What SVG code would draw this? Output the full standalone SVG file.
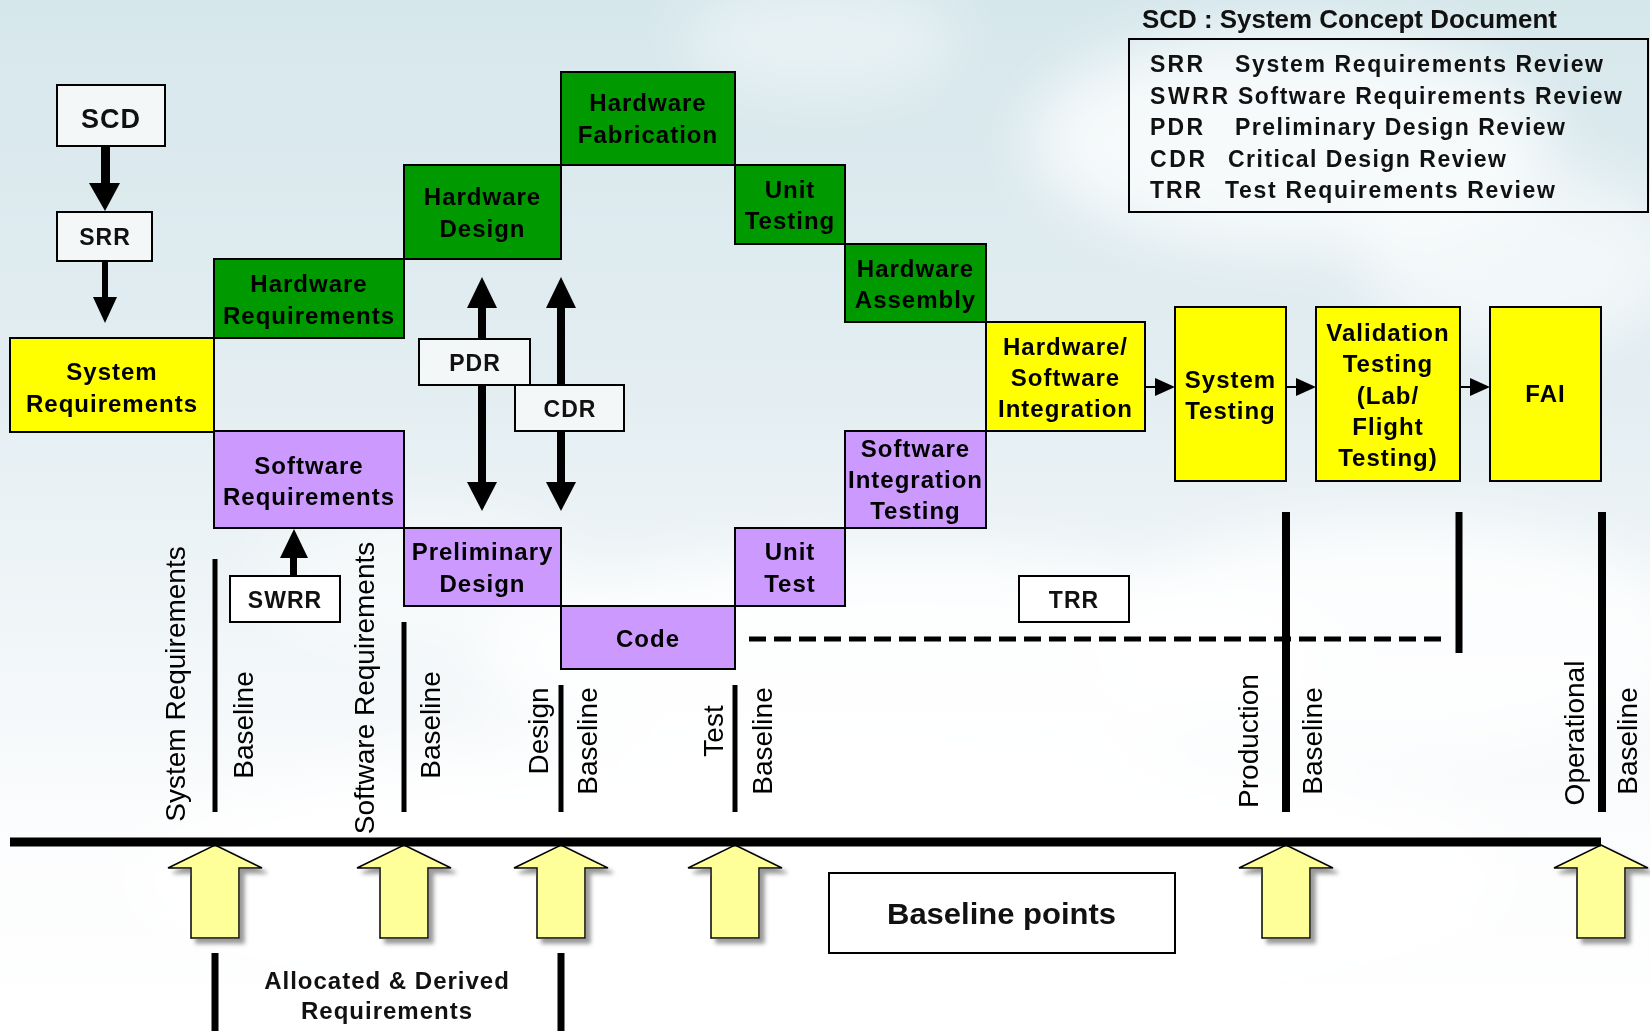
<svg xmlns="http://www.w3.org/2000/svg" width="1650" height="1031" viewBox="0 0 1650 1031">
  <defs>
    <linearGradient id="sky" x1="0" y1="0" x2="0" y2="1">
      <stop offset="0" stop-color="#d6e7ec"/>
      <stop offset="0.35" stop-color="#e2edf1"/>
      <stop offset="0.62" stop-color="#f1f6f8"/>
      <stop offset="0.8" stop-color="#fbfcfd"/>
      <stop offset="1" stop-color="#ffffff"/>
    </linearGradient>
    <filter id="soft" x="-50%" y="-50%" width="200%" height="200%">
      <feGaussianBlur stdDeviation="30"/>
    </filter>
    <filter id="shadow" x="-30%" y="-20%" width="160%" height="140%">
      <feDropShadow dx="5" dy="5" stdDeviation="2" flood-color="#808080" flood-opacity="0.8"/>
    </filter>
    <!-- upward block arrow, tip at origin -->
    <path id="blockArrow" d="M0,0 L47,23 L24,23 L24,93 L-24,93 L-24,23 L-47,23 Z"/>
    <style>
      .box { stroke: #000; stroke-width: 2; }
      .grn { fill: #009900; }
      .yel { fill: #ffff00; }
      .pur { fill: #cc99ff; }
      .rev { fill: #f3f7f8; stroke: #000; stroke-width: 2; }
      .wht { fill: #ffffff; stroke: #000; stroke-width: 2; }
      .lbl { font-family: "Liberation Sans", Arial, sans-serif; font-weight: bold; font-size: 24px; letter-spacing: 1px; text-anchor: middle; fill: #000; }
      .rvl { font-family: "Liberation Sans", Arial, sans-serif; font-weight: bold; font-size: 23px; letter-spacing: 1px; text-anchor: middle; fill: #111; }
      .rot { font-family: "Liberation Sans", Arial, sans-serif; font-size: 28px; text-anchor: middle; fill: #000; }
      .leg { font-family: "Liberation Sans", Arial, sans-serif; font-weight: bold; font-size: 23px; fill: #111; }
      .bar { stroke: #000; fill: none; }
      .blk { fill: #000; }
      .ba { fill: #ffff99; stroke: #000; stroke-width: 1.5; filter: url(#shadow); }
    </style>
  </defs>

  <!-- sky background with soft clouds -->
  <rect x="0" y="0" width="1650" height="1031" fill="url(#sky)"/>
  <g filter="url(#soft)" fill="#ffffff">
    <ellipse cx="1290" cy="140" rx="260" ry="110" opacity="0.75"/>
    <ellipse cx="1520" cy="260" rx="160" ry="90" opacity="0.6"/>
    <ellipse cx="820" cy="40" rx="140" ry="50" opacity="0.45"/>
    <ellipse cx="900" cy="660" rx="420" ry="110" opacity="0.85"/>
    <ellipse cx="1400" cy="640" rx="300" ry="120" opacity="0.8"/>
    <ellipse cx="420" cy="580" rx="160" ry="70" opacity="0.5"/>
    <ellipse cx="820" cy="880" rx="700" ry="140" opacity="0.9"/>
  </g>

  <!-- connectors -->
  <g id="connectors">
    <!-- SCD to SRR -->
    <rect class="blk" x="101" y="146" width="9" height="39"/>
    <polygon class="blk" points="89,183 120,183 105,211"/>
    <!-- SRR to System Requirements -->
    <rect class="blk" x="102" y="261" width="6" height="38"/>
    <polygon class="blk" points="93,297 117,297 105,323"/>
    <!-- PDR review arrows -->
    <rect class="blk" x="478" y="305" width="8" height="34"/>
    <polygon class="blk" points="467,308 497,308 482,277"/>
    <rect class="blk" x="478" y="385" width="8" height="99"/>
    <polygon class="blk" points="467,482 497,482 482,511"/>
    <!-- CDR review arrows -->
    <rect class="blk" x="557" y="305" width="8" height="80"/>
    <polygon class="blk" points="546,308 576,308 561,277"/>
    <rect class="blk" x="557" y="431" width="8" height="53"/>
    <polygon class="blk" points="546,482 576,482 561,511"/>
    <!-- SWRR to Software Requirements -->
    <rect class="blk" x="290" y="555" width="7" height="21"/>
    <polygon class="blk" points="280,558 308,558 294,529"/>
    <!-- test flow arrows -->
    <line class="bar" x1="1145" y1="387" x2="1158" y2="387" stroke-width="2"/>
    <polygon class="blk" points="1155,378 1155,396 1175,387"/>
    <line class="bar" x1="1286" y1="387" x2="1299" y2="387" stroke-width="2"/>
    <polygon class="blk" points="1296,378 1296,396 1316,387"/>
    <line class="bar" x1="1460" y1="387" x2="1473" y2="387" stroke-width="2"/>
    <polygon class="blk" points="1470,378 1470,396 1490,387"/>
    <!-- test requirements path -->
    <line class="bar" x1="749" y1="639" x2="1444" y2="639" stroke-width="5" stroke-dasharray="17 8"/>
    <!-- baseline markers -->
    <line class="bar" x1="215" y1="559" x2="215" y2="812" stroke-width="5"/>
    <line class="bar" x1="404" y1="622" x2="404" y2="812" stroke-width="5"/>
    <line class="bar" x1="561" y1="685" x2="561" y2="812" stroke-width="5"/>
    <line class="bar" x1="735" y1="685" x2="735" y2="812" stroke-width="5"/>
    <line class="bar" x1="1286" y1="512" x2="1286" y2="812" stroke-width="8"/>
    <line class="bar" x1="1459" y1="512" x2="1459" y2="653" stroke-width="7"/>
    <line class="bar" x1="1602" y1="512" x2="1602" y2="812" stroke-width="8"/>
    <!-- allocated and derived requirements span -->
    <line class="bar" x1="215" y1="953" x2="215" y2="1031" stroke-width="7"/>
    <line class="bar" x1="561" y1="953" x2="561" y2="1031" stroke-width="7"/>
  </g>

  <!-- baseline point arrows -->
  <g id="baseline-arrows">
    <use href="#blockArrow" class="ba" x="215" y="845"/>
    <use href="#blockArrow" class="ba" x="404" y="845"/>
    <use href="#blockArrow" class="ba" x="561" y="845"/>
    <use href="#blockArrow" class="ba" x="735" y="845"/>
    <use href="#blockArrow" class="ba" x="1286" y="845"/>
    <use href="#blockArrow" class="ba" x="1601" y="845"/>
  </g>
  <!-- timeline -->
  <line class="bar" x1="10" y1="842" x2="1601" y2="842" stroke-width="9"/>

  <!-- rotated baseline labels -->
  <g id="baseline-labels">
    <text class="rot" transform="translate(185,684) rotate(-90)">System Requirements</text>
    <text class="rot" transform="translate(253,725) rotate(-90)">Baseline</text>
    <text class="rot" transform="translate(374,688) rotate(-90)">Software Requirements</text>
    <text class="rot" transform="translate(440,725) rotate(-90)">Baseline</text>
    <text class="rot" transform="translate(548,731) rotate(-90)">Design</text>
    <text class="rot" transform="translate(597,741) rotate(-90)">Baseline</text>
    <text class="rot" transform="translate(723,731) rotate(-90)">Test</text>
    <text class="rot" transform="translate(772,741) rotate(-90)">Baseline</text>
    <text class="rot" transform="translate(1258,741) rotate(-90)">Production</text>
    <text class="rot" transform="translate(1322,741) rotate(-90)">Baseline</text>
    <text class="rot" transform="translate(1584,733) rotate(-90)">Operational</text>
    <text class="rot" transform="translate(1637,741) rotate(-90)">Baseline</text>
  </g>

  <!-- review boxes -->
  <g id="scd">
    <rect class="rev" x="57" y="85" width="108" height="61"/>
    <text class="rvl" x="111" y="128" style="font-size:27px">SCD</text>
  </g>
  <g id="srr">
    <rect class="rev" x="57" y="212" width="95" height="49"/>
    <text class="rvl" x="105" y="245">SRR</text>
  </g>
  <g id="pdr">
    <rect class="rev" x="419" y="339" width="111" height="46"/>
    <text class="rvl" x="475" y="371">PDR</text>
  </g>
  <g id="cdr">
    <rect class="rev" x="515" y="385" width="109" height="46"/>
    <text class="rvl" x="570" y="417">CDR</text>
  </g>
  <g id="swrr">
    <rect class="wht" x="230" y="576" width="110" height="46"/>
    <text class="rvl" x="285" y="608">SWRR</text>
  </g>
  <g id="trr">
    <rect class="wht" x="1019" y="576" width="110" height="46"/>
    <text class="rvl" x="1074" y="608">TRR</text>
  </g>

  <!-- system level -->
  <g id="system-requirements">
    <rect class="box yel" x="10" y="338" width="204" height="94"/>
    <text class="lbl" x="112" y="380">System</text>
    <text class="lbl" x="112" y="412">Requirements</text>
  </g>

  <!-- hardware branch -->
  <g id="hardware-requirements">
    <rect class="box grn" x="214" y="259" width="190" height="79"/>
    <text class="lbl" x="309" y="292">Hardware</text>
    <text class="lbl" x="309" y="324">Requirements</text>
  </g>
  <g id="hardware-design">
    <rect class="box grn" x="404" y="165" width="157" height="94"/>
    <text class="lbl" x="482.5" y="205">Hardware</text>
    <text class="lbl" x="482.5" y="237">Design</text>
  </g>
  <g id="hardware-fabrication">
    <rect class="box grn" x="561" y="72" width="174" height="93"/>
    <text class="lbl" x="648" y="111">Hardware</text>
    <text class="lbl" x="648" y="143">Fabrication</text>
  </g>
  <g id="hw-unit-testing">
    <rect class="box grn" x="735" y="165" width="110" height="79"/>
    <text class="lbl" x="790" y="198">Unit</text>
    <text class="lbl" x="790" y="229">Testing</text>
  </g>
  <g id="hardware-assembly">
    <rect class="box grn" x="845" y="244" width="141" height="78"/>
    <text class="lbl" x="915.5" y="277">Hardware</text>
    <text class="lbl" x="915.5" y="308">Assembly</text>
  </g>

  <!-- software branch -->
  <g id="software-requirements">
    <rect class="box pur" x="214" y="431" width="190" height="97"/>
    <text class="lbl" x="309" y="474">Software</text>
    <text class="lbl" x="309" y="505">Requirements</text>
  </g>
  <g id="preliminary-design">
    <rect class="box pur" x="404" y="528" width="157" height="78"/>
    <text class="lbl" x="482.5" y="560">Preliminary</text>
    <text class="lbl" x="482.5" y="592">Design</text>
  </g>
  <g id="code">
    <rect class="box pur" x="561" y="606" width="174" height="63"/>
    <text class="lbl" x="648" y="647">Code</text>
  </g>
  <g id="sw-unit-test">
    <rect class="box pur" x="735" y="528" width="110" height="78"/>
    <text class="lbl" x="790" y="560">Unit</text>
    <text class="lbl" x="790" y="592">Test</text>
  </g>
  <g id="software-integration-testing">
    <rect class="box pur" x="845" y="431" width="141" height="97"/>
    <text class="lbl" x="915.5" y="457">Software</text>
    <text class="lbl" x="915.5" y="488">Integration</text>
    <text class="lbl" x="915.5" y="519">Testing</text>
  </g>

  <!-- integration and test -->
  <g id="hw-sw-integration">
    <rect class="box yel" x="986" y="322" width="159" height="109"/>
    <text class="lbl" x="1065.5" y="355">Hardware/</text>
    <text class="lbl" x="1065.5" y="386">Software</text>
    <text class="lbl" x="1065.5" y="417">Integration</text>
  </g>
  <g id="system-testing">
    <rect class="box yel" x="1175" y="307" width="111" height="174"/>
    <text class="lbl" x="1230.5" y="388">System</text>
    <text class="lbl" x="1230.5" y="419">Testing</text>
  </g>
  <g id="validation-testing">
    <rect class="box yel" x="1316" y="307" width="144" height="174"/>
    <text class="lbl" x="1388" y="341">Validation</text>
    <text class="lbl" x="1388" y="372">Testing</text>
    <text class="lbl" x="1388" y="404">(Lab/</text>
    <text class="lbl" x="1388" y="435">Flight</text>
    <text class="lbl" x="1388" y="466">Testing)</text>
  </g>
  <g id="fai">
    <rect class="box yel" x="1490" y="307" width="111" height="174"/>
    <text class="lbl" x="1545.5" y="402">FAI</text>
  </g>

  <!-- legend -->
  <g id="legend">
    <text class="leg" x="1142" y="28" style="font-size:25px" textLength="415" lengthAdjust="spacingAndGlyphs">SCD : System Concept Document</text>
    <rect x="1129" y="39" width="519" height="173" fill="none" stroke="#000" stroke-width="2"/>
    <text class="leg" x="1150" y="72" textLength="53">SRR</text>
    <text class="leg" x="1235" y="72" textLength="368">System Requirements Review</text>
    <text class="leg" x="1150" y="103.5" textLength="78">SWRR</text>
    <text class="leg" x="1238" y="103.5" textLength="384">Software Requirements Review</text>
    <text class="leg" x="1150" y="135" textLength="53">PDR</text>
    <text class="leg" x="1235" y="135" textLength="330">Preliminary Design Review</text>
    <text class="leg" x="1150" y="166.5" textLength="55">CDR</text>
    <text class="leg" x="1228" y="166.5" textLength="278">Critical Design Review</text>
    <text class="leg" x="1150" y="198" textLength="51">TRR</text>
    <text class="leg" x="1225" y="198" textLength="330">Test Requirements Review</text>
  </g>

  <g id="baseline-points">
    <rect class="wht" x="829" y="873" width="346" height="80"/>
    <text class="leg" x="887" y="924" style="font-size:29px" textLength="229" lengthAdjust="spacingAndGlyphs">Baseline points</text>
  </g>

  <g id="allocated-derived">
    <text class="rvl" x="387" y="989" style="font-size:24px">Allocated &amp; Derived</text>
    <text class="rvl" x="387" y="1019" style="font-size:24px">Requirements</text>
  </g>
</svg>
